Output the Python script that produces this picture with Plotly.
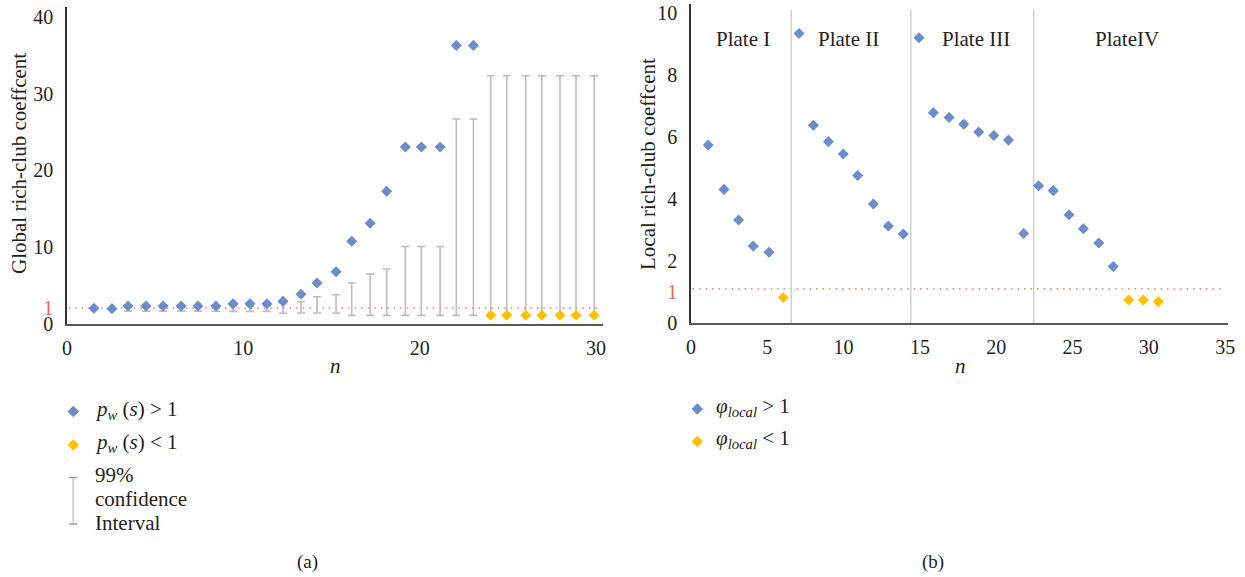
import plotly.graph_objects as go

W, H = 1245, 577
FONT = "Liberation Serif"
BLUE = "#6C8DCB"
GOLD = "#FFC000"
RED = "#F0605A"

# ---------------- data: panel (a) ----------------
n_a_high = [1.53, 2.55, 3.46, 4.48, 5.45, 6.47, 7.43, 8.45, 9.42, 10.38, 11.34, 12.25,
            13.27, 14.18, 15.26, 16.15, 17.19, 18.13, 19.19, 20.1, 21.16, 22.08, 23.05]
pw_high = [2.05, 2.0, 2.35, 2.35, 2.35, 2.35, 2.35, 2.35, 2.65, 2.65, 2.65, 2.95,
           3.87, 5.34, 6.81, 10.78, 13.12, 17.3, 23.06, 23.06, 23.06, 36.3, 36.3]
n_a_low = [24.03, 24.94, 26.02, 26.93, 27.96, 28.87, 29.9]
pw_low = [1.13, 1.13, 1.13, 1.13, 1.13, 1.13, 1.13]
ci_n = n_a_high + n_a_low
ci_lo = [1.9, 1.9, 1.68, 1.68, 1.68, 1.68, 1.68, 1.68, 1.65, 1.65, 1.65, 1.4,
         1.43, 1.43, 1.43, 1.13, 1.13, 1.13, 1.13, 1.13, 1.13, 1.13, 1.13,
         1.13, 1.13, 1.13, 1.13, 1.13, 1.13, 1.13]
ci_hi = [2.0, 2.0, 2.2, 2.2, 2.2, 2.2, 2.2, 2.2, 2.4, 2.4, 2.4, 2.7,
         2.9, 3.55, 3.82, 5.34, 6.5, 7.17, 10.1, 10.1, 10.1, 26.7, 26.7,
         32.35, 32.35, 32.35, 32.35, 32.35, 32.35, 32.35]
threshold_a = 2.07          # where the dotted "1" line is drawn
a_xticks = [0, 10, 20, 30]
a_yticks = [0, threshold_a, 10, 20, 30, 40]
a_yticktext = ["0", f"<span style='color:{RED}'>1</span>", "10", "20", "30", "40"]

# ---------------- data: panel (b) ----------------
n_b_high = [1.13, 2.16, 3.12, 4.08, 5.11, 7.08, 8.02, 9.0, 9.98, 10.92, 11.95, 12.93,
            13.91, 14.94, 15.88, 16.91, 17.87, 18.85, 19.84, 20.8, 21.8, 22.78, 23.74,
            24.77, 25.71, 26.72, 27.67]
phi_high = [5.74, 4.31, 3.32, 2.48, 2.28, 9.34, 6.38, 5.85, 5.45, 4.76, 3.84, 3.13,
            2.87, 9.2, 6.78, 6.63, 6.41, 6.16, 6.05, 5.9, 2.89, 4.43, 4.27,
            3.49, 3.04, 2.58, 1.82]
n_b_low = [6.05, 28.68, 29.64, 30.62]
phi_low = [0.82, 0.74, 0.74, 0.69]
plate_bounds = [6.57, 14.4, 22.46]
plate_names = ["Plate I", "Plate II", "Plate III", "PlateIV"]
plate_label_x = [3.43, 10.35, 18.66, 28.59]
threshold_b = 1.1
b_xticks = [0, 5, 10, 15, 20, 25, 30, 35]
b_yticks = [0, 1, 2, 4, 6, 8, 10]
b_yticktext = ["0", f"<span style='color:{RED}'>1</span>", "2", "4", "6", "8", "10"]


def px(x):
    return x / W


def py(y):
    return 1 - y / H


ci_mid = [(a + b) / 2 for a, b in zip(ci_lo, ci_hi)]
ci_half = [(b - a) / 2 for a, b in zip(ci_lo, ci_hi)]

fig = go.Figure()

# confidence intervals
fig.add_trace(go.Scatter(
    x=ci_n, y=ci_mid, mode="markers", marker=dict(size=1, opacity=0),
    error_y=dict(type="data", array=ci_half, symmetric=True, color="#BDBDBD",
                 thickness=1.6, width=4),
    xaxis="x", yaxis="y", showlegend=False, hoverinfo="skip"))
fig.add_trace(go.Scatter(x=n_a_high, y=pw_high, mode="markers",
                         marker=dict(symbol="diamond", size=8.5, color=BLUE),
                         xaxis="x", yaxis="y", showlegend=False))
fig.add_trace(go.Scatter(x=n_a_low, y=pw_low, mode="markers",
                         marker=dict(symbol="diamond", size=8.5, color=GOLD),
                         xaxis="x", yaxis="y", showlegend=False))

fig.add_trace(go.Scatter(x=n_b_high, y=phi_high, mode="markers",
                         marker=dict(symbol="diamond", size=8.5, color=BLUE),
                         xaxis="x2", yaxis="y2", showlegend=False))
fig.add_trace(go.Scatter(x=n_b_low, y=phi_low, mode="markers",
                         marker=dict(symbol="diamond", size=8.5, color=GOLD),
                         xaxis="x2", yaxis="y2", showlegend=False))

shapes = []
DOT = "1.5px,5px"
# threshold lines
shapes.append(dict(type="line", xref="x", yref="y", x0=0.1, x1=30.1, y0=threshold_a, y1=threshold_a,
                   line=dict(color=RED, width=1.4, dash=DOT), layer="below"))
shapes.append(dict(type="line", xref="x2", yref="y2", x0=0.1, x1=34.8, y0=threshold_b, y1=threshold_b,
                   line=dict(color=RED, width=1.4, dash=DOT), layer="below"))
# plate boundaries
for b in plate_bounds:
    shapes.append(dict(type="line", xref="x2", yref="y2", x0=b, x1=b, y0=0, y1=10.1,
                       line=dict(color="#D0D0D0", width=1.5), layer="below"))


def diamond(cx, cy, r, color):
    pts = [(cx, cy - r), (cx + r, cy), (cx, cy + r), (cx - r, cy)]
    path = "M " + " L ".join(f"{px(x):.5f},{py(y):.5f}" for x, y in pts) + " Z"
    return dict(type="path", xref="paper", yref="paper", path=path,
                fillcolor=color, line=dict(width=0))


shapes.append(diamond(73.3, 411.5, 5.8, BLUE))
shapes.append(diamond(73.3, 445, 5.8, GOLD))
shapes.append(diamond(697.3, 409, 5.8, BLUE))
shapes.append(diamond(697.3, 441.5, 5.8, GOLD))
# error-bar legend symbol
shapes.append(dict(type="line", xref="paper", yref="paper", x0=px(73.3), x1=px(73.3),
                   y0=py(477.5), y1=py(524), line=dict(color="#C8C8C8", width=1.6)))
for yy in (477.5, 524):
    shapes.append(dict(type="line", xref="paper", yref="paper", x0=px(69), x1=px(77.6),
                       y0=py(yy), y1=py(yy), line=dict(color="#9A9A9A", width=1.4)))

ann = []


def text(x, y, s, size=19, xanchor="center", angle=0, italic=False, color="#231F20"):
    ann.append(dict(x=px(x), y=py(y), xref="paper", yref="paper", text=s, showarrow=False,
                    xanchor=xanchor, yanchor="middle", textangle=angle,
                    font=dict(family=FONT, size=size, color=color,
                              style="italic" if italic else "normal")))


text(19, 164, "Global rich-club coeffcent", size=21, angle=-90)
text(648, 164, "Local rich-club coeffcent", size=21, angle=-90)
text(335, 366, "n", size=21, italic=True)
text(960, 366, "n", size=21, italic=True)
text(93, 410, "<i>p</i><sub><i>w</i></sub> (<i>s</i>) &gt; 1", size=21, xanchor="left")
text(93, 443, "<i>p</i><sub><i>w</i></sub> (<i>s</i>) &lt; 1", size=21, xanchor="left")
text(93, 475, "99%", size=21, xanchor="left")
text(93, 499, "confidence", size=21, xanchor="left")
text(93, 523, "Interval", size=21, xanchor="left")
text(714, 407, "<i>φ</i><sub><i>local</i></sub> &gt; 1", size=21, xanchor="left")
text(714, 439, "<i>φ</i><sub><i>local</i></sub> &lt; 1", size=21, xanchor="left")
text(307, 562, "(a)", size=19)
text(933, 562, "(b)", size=19)

for name, lx in zip(plate_names, plate_label_x):
    ann.append(dict(x=lx, y=9.16, xref="x2", yref="y2", text=name, showarrow=False,
                    xanchor="center", yanchor="middle",
                    font=dict(family=FONT, size=21, color="#231F20")))

axfont = dict(family=FONT, size=20, color="#231F20")
common = dict(showgrid=False, zeroline=False, showline=True, ticks="", tickfont=axfont,
              fixedrange=True, automargin=False)

fig.update_layout(
    width=W, height=H, margin=dict(l=0, r=0, t=0, b=0, pad=0, autoexpand=False),
    paper_bgcolor="white", plot_bgcolor="white", showlegend=False,
    xaxis=dict(domain=[px(67), px(603)], range=[0, 30.4], tickvals=a_xticks,
               linecolor="#595959", linewidth=2, anchor="y", ticklabelstandoff=5, **common),
    yaxis=dict(domain=[py(324), py(7)], range=[0, 41.3], tickvals=a_yticks, ticktext=a_yticktext,
               linecolor="#333333", linewidth=1.5, anchor="x", ticklabelstandoff=8, **common),
    xaxis2=dict(domain=[px(691), px(1228.2)], range=[0, 35.2], tickvals=b_xticks,
                linecolor="#595959", linewidth=2, anchor="y2", ticklabelstandoff=5, **common),
    yaxis2=dict(domain=[py(323), py(3.7)], range=[0, 10.3], tickvals=b_yticks, ticktext=b_yticktext,
                linecolor="#333333", linewidth=1.5, anchor="x2", ticklabelstandoff=8, **common),
    shapes=shapes, annotations=ann,
)

css_fix = ("var s=document.createElement('style');"
           "s.textContent='html,body{margin:0;padding:0;overflow:hidden;background:#fff;}"
           ".plotly-graph-div{position:fixed !important;top:0;left:0;}';"
           "document.head.appendChild(s);")
fig.write_html("out.html", config={"displayModeBar": False}, post_script=css_fix)
